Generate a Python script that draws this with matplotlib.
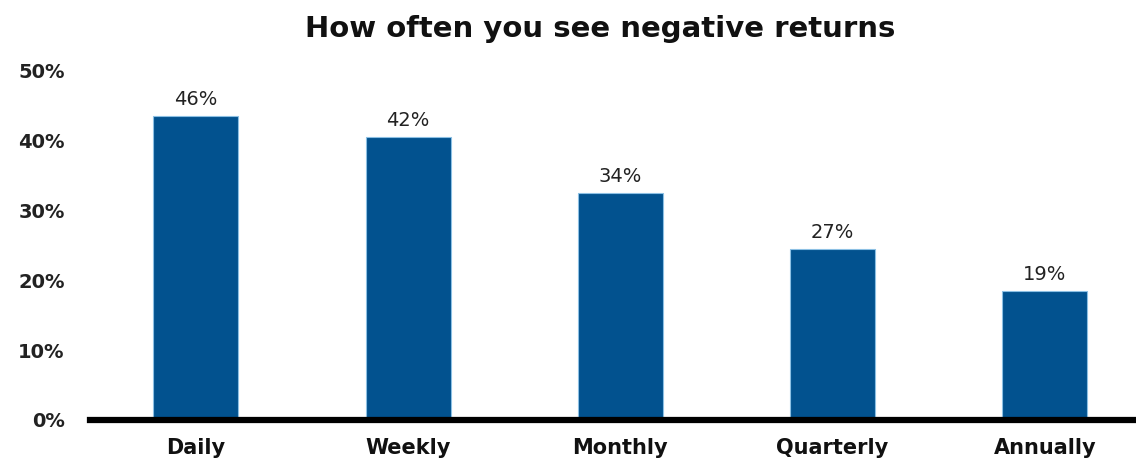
import numpy as np
import matplotlib.pyplot as plt

# data
categories = ['Daily', 'Weekly', 'Monthly', 'Quarterly', 'Annually']
bar_heights = [43.5, 40.5, 32.5, 24.5, 18.5]   # drawn height (%)
value_labels = ['46%', '42%', '34%', '27%', '19%']  # printed labels
yticks = [0, 10, 20, 30, 40, 50]

plt.rcParams['font.family'] = ['DejaVu Sans']

fig = plt.figure(figsize=(11.36, 4.58), dpi=100)
ax = fig.add_axes([0.079, 0.083, 0.921, 0.764])

x = np.arange(len(categories))
bars = ax.bar(x, bar_heights, width=0.4, color='#02528f',
              edgecolor='#8cc0e4', linewidth=0.8, zorder=2)

for b, lab in zip(bars, value_labels):
    ax.annotate(lab, (b.get_x() + b.get_width() / 2, b.get_height()),
                xytext=(0, 5), textcoords='offset points',
                ha='center', va='bottom', fontsize=14, color='#222222')

ax.set_xlim(-0.5, 4.43)
ax.set_ylim(0, 50)
ax.set_yticks(yticks)
ax.set_yticklabels([f'{t}%' for t in yticks], fontsize=14, fontweight='bold',
                   color='#222222')
ax.set_xticks(x)
ax.set_xticklabels(categories, fontsize=15, fontweight='bold', color='#111111')
ax.tick_params(axis='y', length=0, pad=18)
ax.tick_params(axis='x', length=0, pad=13)

for s in ['top', 'right', 'left']:
    ax.spines[s].set_visible(False)
ax.spines['bottom'].set_linewidth(4.5)
ax.spines['bottom'].set_color('black')
ax.spines['bottom'].set_zorder(3)

fig.text(0.528, 0.937, 'How often you see negative returns', ha='center',
         va='center', fontsize=21, fontweight='bold', color='#111111')

fig.savefig('out.png', dpi=100)
